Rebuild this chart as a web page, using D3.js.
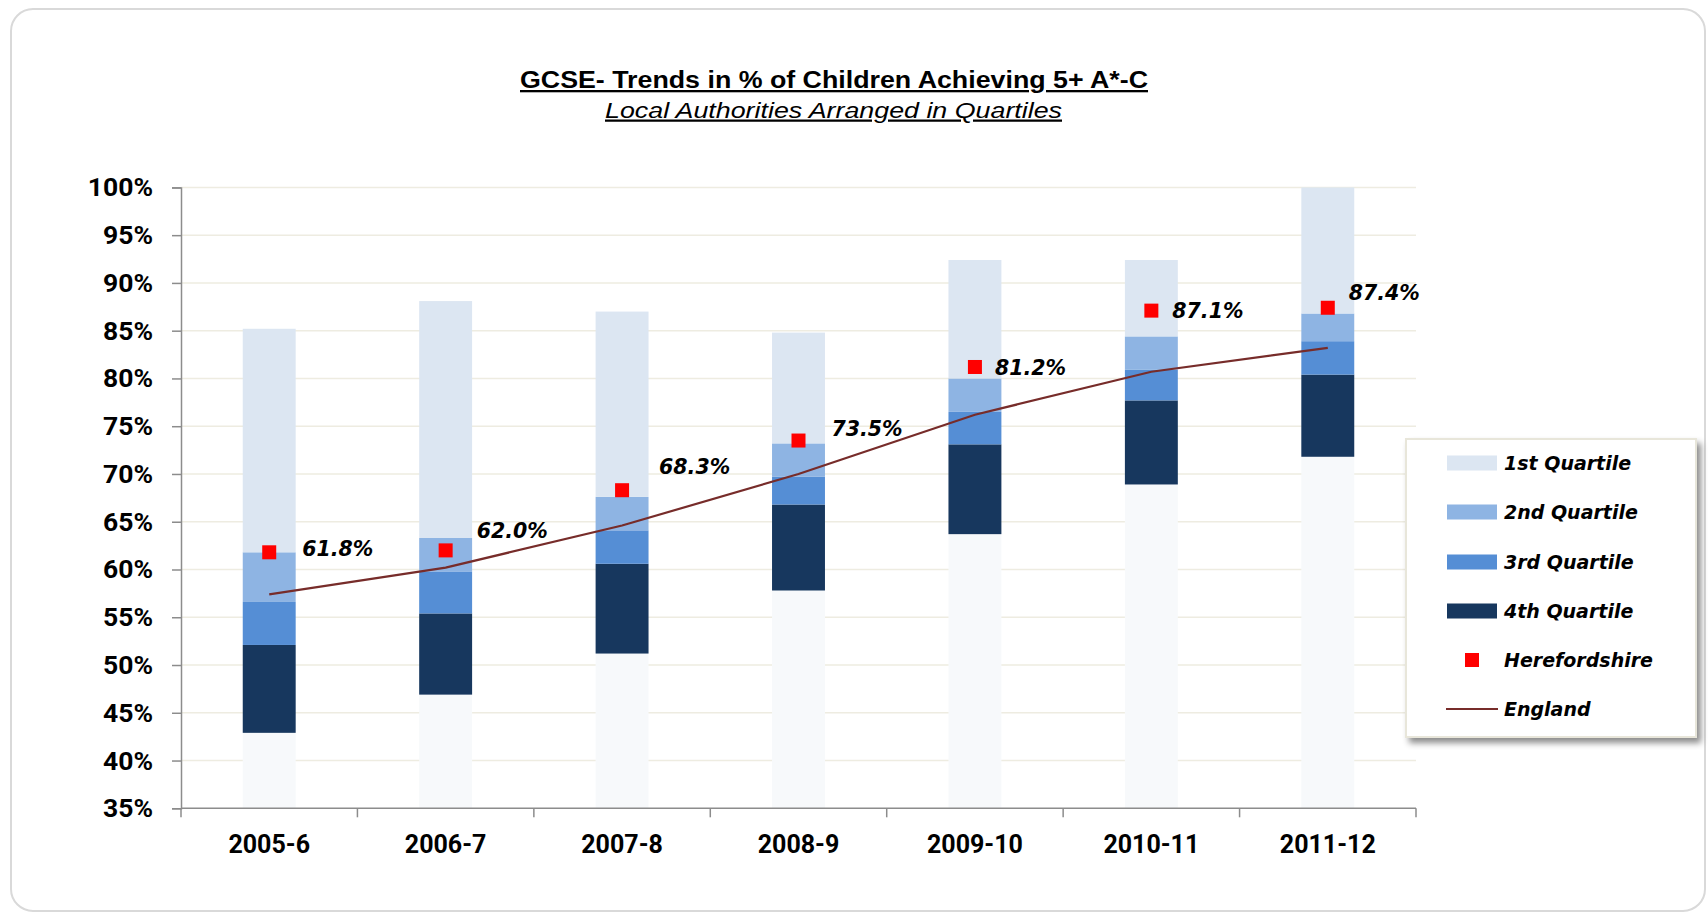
<!DOCTYPE html>
<html>
<head>
<meta charset="utf-8">
<script src="https://cdn.jsdelivr.net/npm/d3@7"></script>
<style>
  html, body { margin: 0; padding: 0; background: #ffffff; }
  svg { display: block; }
</style>
</head>
<body>
<svg id="chart" width="1708" height="915"></svg>
<script>
// ---- data ----
const years = ["2005-6", "2006-7", "2007-8", "2008-9", "2009-10", "2010-11", "2011-12"];
const minVal = [42.9, 46.9, 51.2, 57.8, 63.7, 68.9, 71.8];
const lowerQ = [52.1, 55.4, 60.6, 66.8, 73.1, 77.7, 80.4];
const median = [56.6, 59.8, 64.1, 69.7, 76.5, 80.9, 83.9];
const upperQ = [61.8, 63.3, 67.6, 73.2, 80.0, 84.4, 86.8];
const maxVal = [85.2, 88.1, 87.0, 84.8, 92.4, 92.4, 100.0];
const hereford = [61.8, 62.0, 68.3, 73.5, 81.2, 87.1, 87.4];
const england = [57.4, 60.2, 64.6, 70.0, 76.2, 80.7, 83.2];
const yTicks = [35, 40, 45, 50, 55, 60, 65, 70, 75, 80, 85, 90, 95, 100];
const legendLabels = ["1st Quartile", "2nd Quartile", "3rd Quartile", "4th Quartile", "Herefordshire", "England"];

// label nudges (layout only, px)
const labelNudge = [[33, -3], [31, -20], [37, -23], [33, -12], [20, 1], [21, 0], [21, -15]];

const colors = { base: "#F7F9FB", q4: "#17375E", q3: "#558ED5", q2: "#8EB4E3", q1: "#DCE6F2" };

const svg = d3.select("#chart");
const defs = svg.append("defs");
const f = defs.append("filter").attr("id", "shadow").attr("x", "-10%").attr("y", "-10%").attr("width", "130%").attr("height", "130%");
f.append("feDropShadow").attr("dx", 4).attr("dy", 5).attr("stdDeviation", 3).attr("flood-color", "#000").attr("flood-opacity", 0.45);

// outer frame
svg.append("rect").attr("x", 11).attr("y", 9).attr("width", 1694).attr("height", 902)
  .attr("rx", 22).attr("ry", 22).attr("fill", "#fff").attr("stroke", "#d9d9d9").attr("stroke-width", 2);

// title
svg.append("text").attr("x", 520).attr("y", 88)
  .attr("textLength", 628).attr("lengthAdjust", "spacingAndGlyphs")
  .style("font-family", "'Liberation Sans', Arial, sans-serif").style("font-weight", "bold")
  .style("font-size", "23px").style("text-decoration", "underline").attr("fill", "#000")
  .text("GCSE- Trends in % of Children Achieving 5+ A*-C");
svg.append("text").attr("x", 605).attr("y", 117.5)
  .attr("textLength", 457).attr("lengthAdjust", "spacingAndGlyphs")
  .style("font-family", "'Liberation Sans', Arial, sans-serif").style("font-style", "italic")
  .style("font-size", "22.5px").style("text-decoration", "underline").attr("fill", "#000")
  .text("Local Authorities Arranged in Quartiles");

const pLeft = 181, pRight = 1416, pTop = 187.4, pBottom = 808.3;
const x = d3.scaleBand().domain(years).range([pLeft, pRight]).paddingInner(0.7).paddingOuter(0.35);
const xc = d => x(d) + x.bandwidth() / 2;
const y = d3.scaleLinear().domain([35, 100]).range([pBottom, pTop]);

// grid
svg.append("g").selectAll("line").data(yTicks.slice(1)).join("line")
  .attr("x1", pLeft).attr("x2", pRight).attr("y1", d => y(d)).attr("y2", d => y(d))
  .attr("stroke", "#EEECE1").attr("stroke-width", 1.5);

// bars
const segs = [];
years.forEach((yr, i) => {
  segs.push({ yr, y0: 35, y1: minVal[i], c: colors.base });
  segs.push({ yr, y0: minVal[i], y1: lowerQ[i], c: colors.q4 });
  segs.push({ yr, y0: lowerQ[i], y1: median[i], c: colors.q3 });
  segs.push({ yr, y0: median[i], y1: upperQ[i], c: colors.q2 });
  segs.push({ yr, y0: upperQ[i], y1: maxVal[i], c: colors.q1 });
});
svg.append("g").selectAll("rect").data(segs).join("rect")
  .attr("x", d => x(d.yr)).attr("width", x.bandwidth())
  .attr("y", d => y(d.y1)).attr("height", d => y(d.y0) - y(d.y1))
  .attr("fill", d => d.c);

// axes
const yAxis = d3.axisLeft(y).tickValues(yTicks).tickFormat(d => d + "%").tickSize(9).tickPadding(19);
const gy = svg.append("g").attr("transform", `translate(${pLeft},0)`).call(yAxis);
gy.select(".domain").attr("stroke", "#8c8c8c").attr("stroke-width", 1.5);
gy.selectAll(".tick line").attr("stroke", "#8c8c8c").attr("stroke-width", 1.5);
gy.selectAll("text").style("font-family", "Roboto, 'DejaVu Sans', sans-serif").style("font-weight", "bold")
  .style("font-size", "26.5px").attr("fill", "#000");

const gx = svg.append("g").attr("transform", `translate(0,${pBottom})`);
gx.append("line").attr("x1", pLeft).attr("x2", pRight).attr("stroke", "#8c8c8c").attr("stroke-width", 1.5);
const bounds = years.map(d => x(d) - x.step() * 0.35).concat([pRight]);
gx.selectAll("line.tk").data(bounds).join("line").attr("class", "tk")
  .attr("x1", d => d).attr("x2", d => d).attr("y1", 0).attr("y2", 9)
  .attr("stroke", "#8c8c8c").attr("stroke-width", 1.5);
gx.selectAll("text").data(years).join("text")
  .attr("x", d => xc(d)).attr("y", 45).attr("text-anchor", "middle")
  .style("font-family", "Roboto, 'DejaVu Sans', sans-serif").style("font-weight", "bold")
  .style("font-size", "25px").attr("fill", "#000").text(d => d);

// England line
const line = d3.line().x((d, i) => xc(years[i])).y(d => y(d));
svg.append("path").datum(england).attr("d", line).attr("fill", "none")
  .attr("stroke", "#772C2A").attr("stroke-width", 2.2);

// Herefordshire markers
const ms = 14;
svg.append("g").selectAll("rect").data(hereford).join("rect")
  .attr("x", (d, i) => xc(years[i]) - ms / 2).attr("y", d => y(d) - ms / 2)
  .attr("width", ms).attr("height", ms).attr("fill", "#FF0000");
svg.append("g").selectAll("text").data(hereford).join("text")
  .attr("x", (d, i) => xc(years[i]) + labelNudge[i][0])
  .attr("y", (d, i) => y(d) + labelNudge[i][1])
  .attr("dy", "0.35em")
  .style("font-family", "'DejaVu Sans', Verdana, sans-serif").style("font-weight", "bold")
  .style("font-style", "italic").style("font-size", "20.5px").attr("fill", "#000")
  .text(d => d.toFixed(1) + "%");

// legend
const lg = svg.append("g");
lg.append("rect").attr("x", 1406).attr("y", 439).attr("width", 290).attr("height", 298)
  .attr("fill", "#fff").attr("stroke", "#E8E6DA").attr("stroke-width", 2).attr("filter", "url(#shadow)");
const legendY = [463, 512, 562, 611, 660, 709];
const swatchColors = [colors.q1, colors.q2, colors.q3, colors.q4];
legendLabels.forEach((lab, i) => {
  const cy = legendY[i];
  if (i < 4) {
    lg.append("rect").attr("x", 1447).attr("y", cy - 7.5).attr("width", 50).attr("height", 15).attr("fill", swatchColors[i]);
  } else if (i === 4) {
    lg.append("rect").attr("x", 1465).attr("y", cy - 7).attr("width", 14).attr("height", 14).attr("fill", "#FF0000");
  } else {
    lg.append("line").attr("x1", 1446).attr("x2", 1498).attr("y1", cy).attr("y2", cy)
      .attr("stroke", "#772C2A").attr("stroke-width", 2.2);
  }
  lg.append("text").attr("x", 1504).attr("y", cy).attr("dy", "0.35em")
    .style("font-family", "'DejaVu Sans', Verdana, sans-serif").style("font-weight", "bold")
    .style("font-style", "italic").style("font-size", "19px").attr("fill", "#000").text(lab);
});
</script>
</body>
</html>
